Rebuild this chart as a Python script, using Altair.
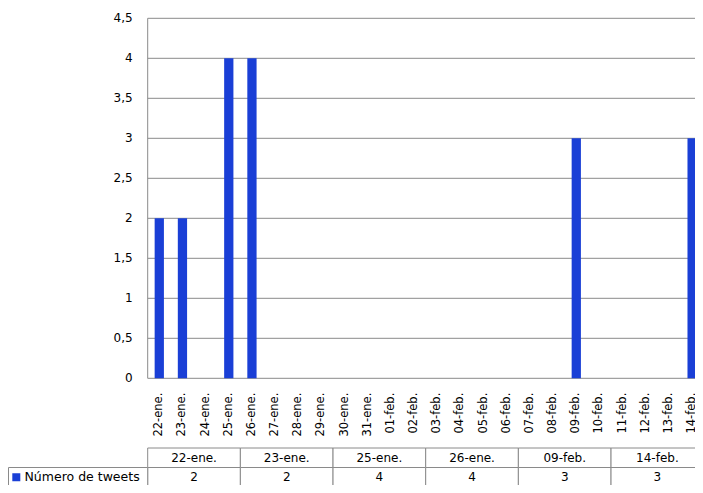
import altair as alt
import pandas as pd

dates = ["22-ene.", "23-ene.", "24-ene.", "25-ene.", "26-ene.", "27-ene.", "28-ene.",
         "29-ene.", "30-ene.", "31-ene.", "01-feb.", "02-feb.", "03-feb.", "04-feb.",
         "05-feb.", "06-feb.", "07-feb.", "08-feb.", "09-feb.", "10-feb.", "11-feb.",
         "12-feb.", "13-feb.", "14-feb."]
values = [2, 2, 0, 4, 4, 0, 0, 0, 0, 0, 0, 0, 0, 0, 0, 0, 0, 0, 3, 0, 0, 0, 0, 3]
series_name = "Número de tweets"
y_ticks = [0, 0.5, 1, 1.5, 2, 2.5, 3, 3.5, 4, 4.5]
y_labels = ["0", "0,5", "1", "1,5", "2", "2,5", "3", "3,5", "4", "4,5"]

BLUE = "#1a3fd6"
GREY = "#8a8a8a"
FONT = "DejaVu Sans"

# canvas / layout (svg pixels); the chart is cropped on the right edge
W, H = 687, 477
PL, PT, PB = 139.7, 10.3, 370.3      # plot left, top, bottom
SPAN = 556                           # full category span (extends past the right edge)

bars_df = pd.DataFrame({"fecha": dates, "tweets": values})
ticks_df = pd.DataFrame({"tick": y_ticks, "label": y_labels})

table_dates = [d for d, v in zip(dates, values) if v > 0]
table_vals = [v for v in values if v > 0]
table_df = pd.DataFrame(
    [{"fecha": d, "fila": "cab", "texto": d} for d in table_dates]
    + [{"fecha": d, "fila": "val", "texto": str(v)} for d, v in zip(table_dates, table_vals)]
)
legend_df = pd.DataFrame({"fila": ["val"], "serie": [series_name]})

xb = alt.Scale(domain=dates, range=[PL, PL + SPAN], paddingInner=0.6, paddingOuter=0.3)
yv = alt.Scale(domain=[0, 4.5], range=[PB, PT], nice=False, zero=False)
xt = alt.Scale(domain=table_dates, range=[PL, PL + SPAN], paddingInner=0, paddingOuter=0)
yt = alt.Scale(domain=["cab", "val"], range=[440, 479], paddingInner=0, paddingOuter=0)

grid = alt.Chart(ticks_df).mark_rule(color=GREY, strokeWidth=1).encode(
    y=alt.Y("tick:Q", scale=yv, axis=None),
    x=alt.value(PL), x2=alt.value(W),
)
y_axis_line = alt.Chart(ticks_df).mark_rule(color=GREY, strokeWidth=1).encode(
    x=alt.value(PL),
    y=alt.Y("min(tick):Q", scale=yv, axis=None),
    y2="max(tick):Q",
)
y_text = alt.Chart(ticks_df).mark_text(font=FONT, fontSize=12, color="#000",
                                       align="right", baseline="middle").encode(
    y=alt.Y("tick:Q", scale=yv, axis=None),
    x=alt.value(PL - 15),
    text="label:N",
)
bars = alt.Chart(bars_df).mark_bar(color=BLUE).encode(
    x=alt.X("fecha:N", sort=dates, scale=xb, axis=None),
    y=alt.Y("tweets:Q", scale=yv, axis=None),
)
x_text = alt.Chart(bars_df).mark_text(font=FONT, fontSize=11.5, color="#000", angle=270,
                                      align="right", baseline="middle").encode(
    x=alt.X("fecha:N", sort=dates, scale=xb, axis=None),
    y=alt.value(PB + 14.4),
    text="fecha:N",
)
plot = alt.layer(grid, y_axis_line, bars, y_text, x_text)

cells = alt.Chart(table_df).mark_rect(fill="white", stroke=GREY, strokeWidth=1).encode(
    x=alt.X("fecha:N", sort=table_dates, scale=xt, axis=None),
    y=alt.Y("fila:N", scale=yt, axis=None),
)
cell_text = alt.Chart(table_df).mark_text(font=FONT, fontSize=12, color="#000",
                                          baseline="middle").encode(
    x=alt.X("fecha:N", sort=table_dates, scale=xt, axis=None),
    y=alt.Y("fila:N", scale=yt, axis=None),
    text="texto:N",
)
legend_cell = alt.Chart(legend_df).mark_rect(fill="white", stroke=GREY, strokeWidth=1).encode(
    x=alt.value(0.5), x2=alt.value(PL),
    y=alt.Y("fila:N", scale=yt, axis=None),
)
legend_key = alt.Chart(legend_df).mark_square(color=BLUE, opacity=1, size=64).encode(
    x=alt.value(8.3),
    y=alt.Y("fila:N", scale=yt, axis=None),
)
legend_text = alt.Chart(legend_df).mark_text(font=FONT, fontSize=12.5, color="#000",
                                             align="left", baseline="middle").encode(
    x=alt.value(16.5),
    y=alt.Y("fila:N", scale=yt, axis=None),
    text="serie:N",
)
table = alt.layer(cells, cell_text, legend_cell, legend_key, legend_text)

chart = alt.layer(plot, table).resolve_scale(x="independent", y="independent").properties(
    width=W, height=H,
    autosize=alt.AutoSizeParams(type="none"),
    padding=0,
    background="white",
).configure_view(strokeWidth=0)

chart.save("out.html", embed_options={"renderer": "svg", "actions": False})
